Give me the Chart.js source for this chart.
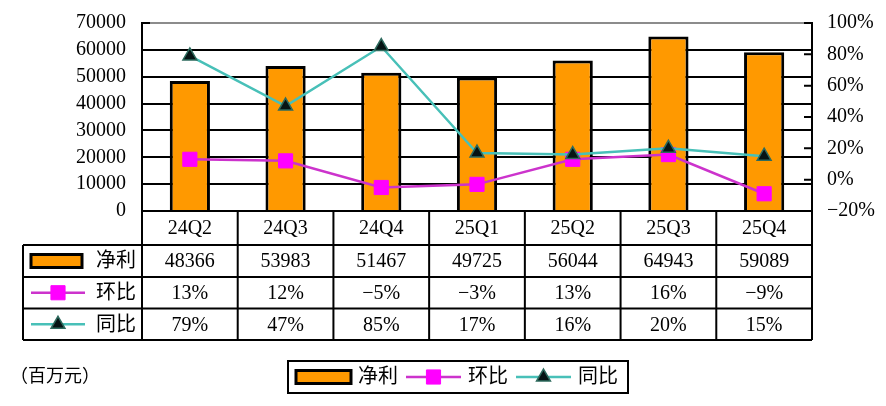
<!DOCTYPE html>
<html>
<head>
<meta charset="utf-8">
<script src="https://cdn.jsdelivr.net/npm/chart.js@4.4.1/dist/chart.umd.min.js"></script>
<style>
	body { margin: 0; background: #fff; }
	#wrap { position: relative; width: 886px; height: 406px; }
</style>
</head>
<body>
<div id="wrap"><canvas id="profitChart"></canvas></div>
<script>
"use strict";
// chart data
var quarters = ["24Q2", "24Q3", "24Q4", "25Q1", "25Q2", "25Q3", "25Q4"];
var netProfit = [48366, 53983, 51467, 49725, 56044, 64943, 59089];
var qoq = [13, 12, -5, -3, 13, 16, -9];
var yoy = [79, 47, 85, 17, 16, 20, 15];
var leftTicks = [0, 10000, 20000, 30000, 40000, 50000, 60000, 70000];
var rightTicks = [-20, 0, 20, 40, 60, 80, 100];
var unitLabel = "（百万元）";

var FONT = '"Liberation Serif", "Noto Sans CJK SC", serif';
Chart.defaults.font.family = FONT;
Chart.defaults.font.size = 20;
Chart.defaults.color = "#000";

function pct(v) {
	return (v < 0 ? "\u2212" + Math.abs(v) : String(v)) + "%";
}

// marker shapes for the legend keys
function drawMarker(ctx, ds, x, y) {
	var r = ds.pointRadius;
	ctx.save();
	ctx.fillStyle = ds.pointBackgroundColor;
	ctx.strokeStyle = ds.pointBorderColor;
	ctx.lineWidth = ds.pointBorderWidth;
	ctx.beginPath();
	if (ds.pointStyle === "rect") {
		var s = Math.SQRT1_2 * r;
		ctx.rect(x - s, y - s, s * 2, s * 2);
	} else {
		var rad = 0;
		ctx.moveTo(x + Math.sin(rad) * r, y - Math.cos(rad) * r);
		rad += Math.PI * 2 / 3;
		ctx.lineTo(x + Math.sin(rad) * r, y - Math.cos(rad) * r);
		rad += Math.PI * 2 / 3;
		ctx.lineTo(x + Math.sin(rad) * r, y - Math.cos(rad) * r);
		ctx.closePath();
	}
	ctx.fill();
	ctx.stroke();
	ctx.restore();
}

function drawKey(ctx, ds, x0, x1, cy) {
	ctx.save();
	if (ds.type === "bar") {
		ctx.fillStyle = ds.backgroundColor;
		ctx.strokeStyle = ds.borderColor;
		ctx.lineWidth = 3;
		ctx.fillRect(x0, cy - 6.5, x1 - x0, 13);
		ctx.strokeRect(x0, cy - 6.5, x1 - x0, 13);
	} else {
		ctx.strokeStyle = ds.borderColor;
		ctx.lineWidth = ds.borderWidth;
		ctx.beginPath();
		ctx.moveTo(x0, cy);
		ctx.lineTo(x1, cy);
		ctx.stroke();
		drawMarker(ctx, ds, (x0 + x1) / 2, cy);
	}
	ctx.restore();
}

// data table under the plot + legend box
var tablePlugin = {
	id: "dataTable",
	afterDraw: function (chart) {
		var ctx = chart.ctx;
		var area = chart.chartArea;
		var xs = chart.scales.x;
		var n = quarters.length;
		var cw = (area.right - area.left) / n;
		var b = area.bottom;
		var rows = [b, b + 34, b + 66, b + 97.5, b + 129];
		var tableLeft = 23;
		var sets = chart.data.datasets;
		var rowText = [
			netProfit.map(function (v) { return String(v); }),
			qoq.map(pct),
			yoy.map(pct)
		];

		ctx.save();
		ctx.strokeStyle = "#000";
		ctx.lineWidth = 2;
		ctx.beginPath();
		// horizontal rules
		for (var r = 1; r < rows.length; r++) {
			ctx.moveTo(tableLeft, rows[r]);
			ctx.lineTo(area.right, rows[r]);
		}
		// vertical rules
		for (var i = 0; i <= n; i++) {
			var vx = area.left + i * cw;
			ctx.moveTo(vx, rows[0]);
			ctx.lineTo(vx, rows[4]);
		}
		ctx.moveTo(tableLeft, rows[1]);
		ctx.lineTo(tableLeft, rows[4]);
		ctx.stroke();

		// inner tick marks on both axes
		ctx.beginPath();
		chart.scales.y1.ticks.forEach(function (t) {
			var ty = chart.scales.y1.getPixelForValue(t.value);
			ctx.moveTo(area.right - 8, ty);
			ctx.lineTo(area.right, ty);
		});
		ctx.moveTo(area.left, area.top);
		ctx.lineTo(area.left + 8, area.top);
		ctx.stroke();

		ctx.fillStyle = "#000";
		ctx.font = "20px " + FONT;
		ctx.textBaseline = "middle";
		ctx.textAlign = "center";
		quarters.forEach(function (q, k) {
			ctx.fillText(q, xs.getPixelForValue(k), (rows[0] + rows[1]) / 2 + 1);
		});
		rowText.forEach(function (vals, ri) {
			var cy = (rows[ri + 1] + rows[ri + 2]) / 2 + 1;
			vals.forEach(function (t, k) {
				ctx.fillText(t, xs.getPixelForValue(k), cy);
			});
		});

		// row headers
		sets.forEach(function (ds, ri) {
			var cy = (rows[ri + 1] + rows[ri + 2]) / 2;
			drawKey(ctx, ds, 31, ds.type === "bar" ? 82 : 85, cy);
			ctx.fillStyle = "#000";
			ctx.textAlign = "left";
			ctx.fillText(ds.label, 96, cy + 1);
		});

		// unit note
		ctx.font = "18px " + FONT;
		ctx.fillText(unitLabel, 10, 377);

		// legend box
		ctx.font = "20px " + FONT;
		var lx = 296, ly = 377;
		sets.forEach(function (ds) {
			drawKey(ctx, ds, lx, lx + 55, ly);
			lx += 62;
			ctx.fillStyle = "#000";
			ctx.fillText(ds.label, lx, ly + 1);
			lx += ctx.measureText(ds.label).width + 8;
		});
		ctx.strokeStyle = "#000";
		ctx.lineWidth = 2;
		ctx.strokeRect(288, 361, lx + 2 - 288, 32);
		ctx.restore();
	}
};

// the y axes add label room above the plot; the layout padding handles that here
function fitAxis(width) {
	return function (s) {
		s.width = width;
		s.paddingTop = 0;
		s.paddingBottom = 0;
	};
}

var ctx = document.getElementById("profitChart");
var config = {
	data: {
		labels: quarters,
		datasets: [{
			type: "bar",
			label: "净利",
			data: netProfit,
			backgroundColor: "#FF9900",
			borderColor: "#000",
			borderWidth: 3,
			barPercentage: 0.42,
			categoryPercentage: 1,
			yAxisID: "y",
			order: 3
		}, {
			type: "line",
			label: "环比",
			data: qoq,
			borderColor: "#CC33CC",
			borderWidth: 2.5,
			pointStyle: "rect",
			pointRadius: 10,
			pointHoverRadius: 10,
			pointBackgroundColor: "#FF00FF",
			pointBorderColor: "#FF00FF",
			pointBorderWidth: 1,
			tension: 0,
			yAxisID: "y1",
			order: 2
		}, {
			type: "line",
			label: "同比",
			data: yoy,
			borderColor: "#48C0B8",
			borderWidth: 2.5,
			pointStyle: "triangle",
			pointRadius: 8,
			pointHoverRadius: 8,
			pointBackgroundColor: "#061414",
			pointBorderColor: "#2E6B5E",
			pointBorderWidth: 1.5,
			tension: 0,
			yAxisID: "y1",
			order: 1
		}]
	},
	options: {
		responsive: true,
		maintainAspectRatio: false,
		animation: false,
		layout: {
			padding: { top: 23, bottom: 195, left: 0, right: 0 }
		},
		plugins: {
			legend: { display: false },
			tooltip: { enabled: false }
		},
		scales: {
			x: {
				display: false
			},
			y: {
				position: "left",
				min: leftTicks[0],
				max: leftTicks[leftTicks.length - 1],
				afterFit: fitAxis(142),
				afterBuildTicks: function (s) {
					s.ticks = leftTicks.map(function (v) { return { value: v }; });
				},
				ticks: {
					padding: 16,
					autoSkip: false,
					callback: function (v) { return String(v); }
				},
				grid: {
					drawTicks: false,
					lineWidth: 2,
					color: function (c) {
						return c.tick && c.tick.value === leftTicks[leftTicks.length - 1] ? "#8c8c8c" : "#000";
					}
				},
				border: { color: "#000", width: 2 }
			},
			y1: {
				position: "right",
				min: rightTicks[0],
				max: rightTicks[rightTicks.length - 1],
				afterFit: fitAxis(74),
				afterBuildTicks: function (s) {
					s.ticks = rightTicks.map(function (v) { return { value: v }; });
				},
				ticks: {
					padding: 15,
					autoSkip: false,
					callback: function (v) { return pct(v); }
				},
				grid: { drawOnChartArea: false, drawTicks: false },
				border: { color: "#000", width: 2 }
			}
		}
	},
	plugins: [tablePlugin]
};
var profitChart = new Chart(ctx, config);
</script>
</body>
</html>
